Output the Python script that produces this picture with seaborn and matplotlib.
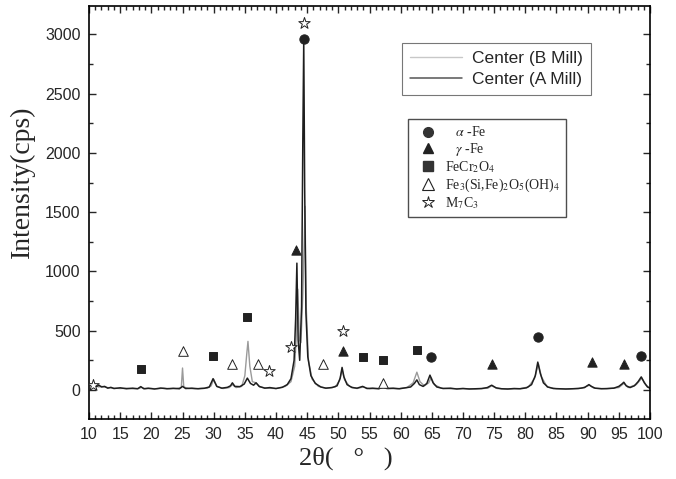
import pandas as pd
import matplotlib.pyplot as plt
import seaborn as sns
from matplotlib.lines import Line2D
from matplotlib.ticker import MultipleLocator

# XRD pattern, Center (A Mill)
two_theta_a = [10, 10.4, 10.8, 11.2, 11.6, 12, 12.5, 13, 13.5, 14, 15, 16, 17, 17.8, 18.3, 18.8,
               19.5, 20.5, 21.5, 22.5, 23.5, 24.5, 25, 25.5, 26.5, 27.5, 28.5, 29.3, 29.9, 30.5,
               31.3, 32.2, 32.7, 33.0, 33.4, 34.2, 34.9, 35.4, 35.9, 36.4, 36.8, 37.3, 38.2, 39,
               40, 41, 41.8, 42.4, 42.9, 43.15, 43.35, 43.55, 43.8, 44.1, 44.3, 44.45, 44.6, 44.8,
               45.1, 45.6, 46.3, 47.2, 48, 49, 49.8, 50.3, 50.6, 50.9, 51.4, 52.2, 53, 53.9, 54.6,
               55.5, 56.5, 57.2, 57.8, 58.8, 59.8, 60.8, 61.6, 62.2, 62.6, 63.0, 63.6, 64.2, 64.7,
               65.2, 65.8, 66.8, 68, 69, 70, 71, 72, 73, 73.9, 74.6, 75.3, 76.2, 77.2, 78.2, 79.2,
               80.2, 81, 81.6, 82.0, 82.4, 82.9, 83.6, 84.5, 85.5, 86.5, 87.5, 88.5, 89.5, 90.2,
               90.6, 91.2, 92.2, 93.2, 94.2, 95, 95.5, 95.8, 96.2, 96.8, 97.5, 98.1, 98.6, 99.1,
               99.6, 100]
counts_a = [55, 35, 50, 30, 40, 25, 30, 15, 22, 12, 18, 10, 15, 10, 28, 10,
            15, 8, 16, 10, 14, 10, 30, 12, 15, 10, 14, 25, 95, 30,
            15, 22, 35, 60, 30, 28, 50, 100, 55, 40, 60, 30, 15, 20,
            12, 22, 45, 95, 250, 600, 1070, 420, 250, 700, 2100, 2950, 1700, 650,
            280, 120, 55, 25, 15, 20, 35, 100, 190, 110, 45, 20, 15, 30, 12,
            15, 10, 25, 12, 15, 10, 18, 25, 55, 85, 45, 30, 55, 125,
            60, 25, 12, 15, 8, 12, 8, 10, 12, 20, 40, 18, 10, 8, 12, 10,
            18, 45, 120, 235, 140, 60, 25, 12, 10, 8, 10, 12, 20, 45,
            30, 15, 10, 12, 15, 30, 50, 65, 35, 20, 35, 70, 110, 60,
            25, 15]

# XRD pattern, Center (B Mill)
two_theta_b = [10, 10.5, 11, 11.5, 12, 13, 14, 15, 16, 17, 18, 18.4, 19, 20, 21, 22, 23, 24,
               24.8, 25.0, 25.2, 26, 27, 28, 29, 29.6, 30.0, 30.5, 31.5, 32.5, 33.0, 33.6, 34.5,
               35.0, 35.3, 35.5, 35.8, 36.2, 36.8, 37.4, 38.5, 40, 41.5, 42.4, 43.0, 43.3, 43.5,
               43.75, 44.0, 44.3, 44.5, 44.65, 44.85, 45.2, 45.8, 46.8, 48, 49.5, 50.2, 50.6,
               51.0, 51.8, 53, 54, 55, 56.5, 57.3, 58, 59.5, 61, 62.0, 62.6, 63.1, 63.8, 64.5,
               64.9, 65.4, 66.5, 68, 70, 72, 74, 74.6, 75.5, 77, 79, 80.5, 81.5, 82.1, 82.6,
               83.5, 85, 87, 89, 90.3, 91, 93, 95, 95.8, 96.5, 97.8, 98.7, 99.4, 100]
counts_b = [45, 30, 40, 25, 30, 20, 15, 12, 15, 10, 12, 22, 10, 12, 10, 15, 10, 12,
            20, 185, 25, 12, 10, 14, 15, 35, 90, 30, 12, 20, 45, 20, 30,
            120, 300, 410, 200, 70, 60, 25, 15, 12, 30, 70, 200, 500, 850,
            420, 400, 800, 1200, 1550, 700, 250, 90, 30, 15, 25, 80, 170,
            85, 30, 12, 25, 10, 12, 45, 12, 10, 20, 60, 150, 70, 35, 60,
            105, 45, 15, 10, 12, 8, 15, 35, 12, 8, 10, 25, 100, 220, 110,
            25, 10, 8, 15, 40, 15, 10, 20, 55, 20, 45, 100, 40, 15]

# phase identification markers (2theta, height of symbol)
alpha_fe_x = [44.45, 64.8, 82.0, 98.6]
alpha_fe_y = [2960, 275, 445, 290]
gamma_fe_x = [43.2, 50.7, 74.6, 90.7, 95.8]
gamma_fe_y = [1185, 330, 220, 235, 220]
fecr2o4_x = [18.4, 29.9, 35.4, 53.9, 57.1, 62.7]
fecr2o4_y = [180, 285, 615, 275, 255, 340]
serpentine_x = [25.0, 33.0, 37.1, 47.6, 57.2]
serpentine_y = [330, 220, 220, 215, 55]
m7c3_x = [10.6, 38.9, 42.4, 44.45, 50.7]
m7c3_y = [40, 160, 365, 3100, 495]

phase_labels = [r'   $\alpha$ -Fe', r'   $\gamma$ -Fe', r'FeCr$_2$O$_4$',
                r'Fe$_3$(Si,Fe)$_2$O$_5$(OH)$_4$', r'M$_7$C$_3$']

sns.set_style('ticks')
plt.rcParams['mathtext.fontset'] = 'stix'

fig, ax = plt.subplots(figsize=(6.76, 4.79), dpi=100)
fig.subplots_adjust(left=0.1317, right=0.9615, bottom=0.1253, top=0.9875)

sns.lineplot(x=two_theta_b, y=counts_b, ax=ax, color='#9a9a9a', lw=1.0,
             estimator=None, label='Center (B Mill)')
sns.lineplot(x=two_theta_a, y=counts_a, ax=ax, color='#1e1e1e', lw=1.1,
             estimator=None, label='Center (A Mill)')

sym = [
    (alpha_fe_x, alpha_fe_y, 'o', '#222222', 45),
    (gamma_fe_x, gamma_fe_y, '^', '#222222', 45),
    (fecr2o4_x, fecr2o4_y, 's', '#222222', 36),
    (serpentine_x, serpentine_y, '^', 'white', 48),
    (m7c3_x, m7c3_y, '*', 'white', 75),
]
for xs, ys, m, fc, s in sym:
    sns.scatterplot(x=xs, y=ys, ax=ax, marker=m, color=fc, edgecolor='#222222',
                    linewidth=0.7, s=s, zorder=5)

ax.set_xlim(10, 100)
ax.set_ylim(-245, 3240)
ax.xaxis.set_major_locator(MultipleLocator(5))
ax.xaxis.set_minor_locator(MultipleLocator(1))
ax.yaxis.set_major_locator(MultipleLocator(500))
ax.yaxis.set_minor_locator(MultipleLocator(250))
ax.tick_params(which='both', direction='in', top=True, right=True, width=1.0)
ax.tick_params(which='major', length=5, labelsize=11.5, pad=6)
ax.tick_params(which='minor', length=3)
for lbl in ax.get_xticklabels() + ax.get_yticklabels():
    lbl.set_family('Liberation Sans')
for sp in ax.spines.values():
    sp.set_linewidth(1.2)
    sp.set_color('black')

ax.set_xlabel('2θ(   °   )', family='Liberation Serif', fontsize=19)
ax.xaxis.label.set_va('center')
ax.xaxis.set_label_coords(0.458, -0.096)
ax.set_ylabel('Intensity(cps)', family='Liberation Serif', fontsize=20)
ax.yaxis.label.set_va('center')
ax.yaxis.set_label_coords(-0.119, 0.574)

leg1 = ax.legend(loc='upper left', bbox_to_anchor=(0.558, 0.91), borderaxespad=0,
                 frameon=True, fancybox=False, edgecolor='#555555',
                 prop={'family': 'Liberation Sans', 'size': 12.5},
                 handlelength=3.0, handletextpad=0.6, labelspacing=0.35,
                 borderpad=0.45)
leg1.get_frame().set_linewidth(0.8)
leg1.get_lines()[0].set_color('#c8c8c8')
leg1.get_lines()[1].set_color('#555555')
ax.add_artist(leg1)

handles = [
    Line2D([], [], ls='', marker='o', color='#333333', markersize=7),
    Line2D([], [], ls='', marker='^', color='#222222', markersize=7),
    Line2D([], [], ls='', marker='s', color='#333333', markersize=7),
    Line2D([], [], ls='', marker='^', markerfacecolor='white',
           markeredgecolor='#222222', markersize=8, markeredgewidth=0.8),
    Line2D([], [], ls='', marker='*', markerfacecolor='white',
           markeredgecolor='#222222', markersize=9, markeredgewidth=0.7),
]
leg2 = ax.legend(handles, phase_labels, loc='upper left', bbox_to_anchor=(0.569, 0.726),
                 borderaxespad=0, frameon=True, fancybox=False, edgecolor='#222222',
                 prop={'family': 'Liberation Serif', 'size': 10},
                 handletextpad=0.2, labelspacing=0.1, borderpad=0.45)
leg2.get_frame().set_linewidth(1.0)

fig.savefig('out.png', dpi=100)
